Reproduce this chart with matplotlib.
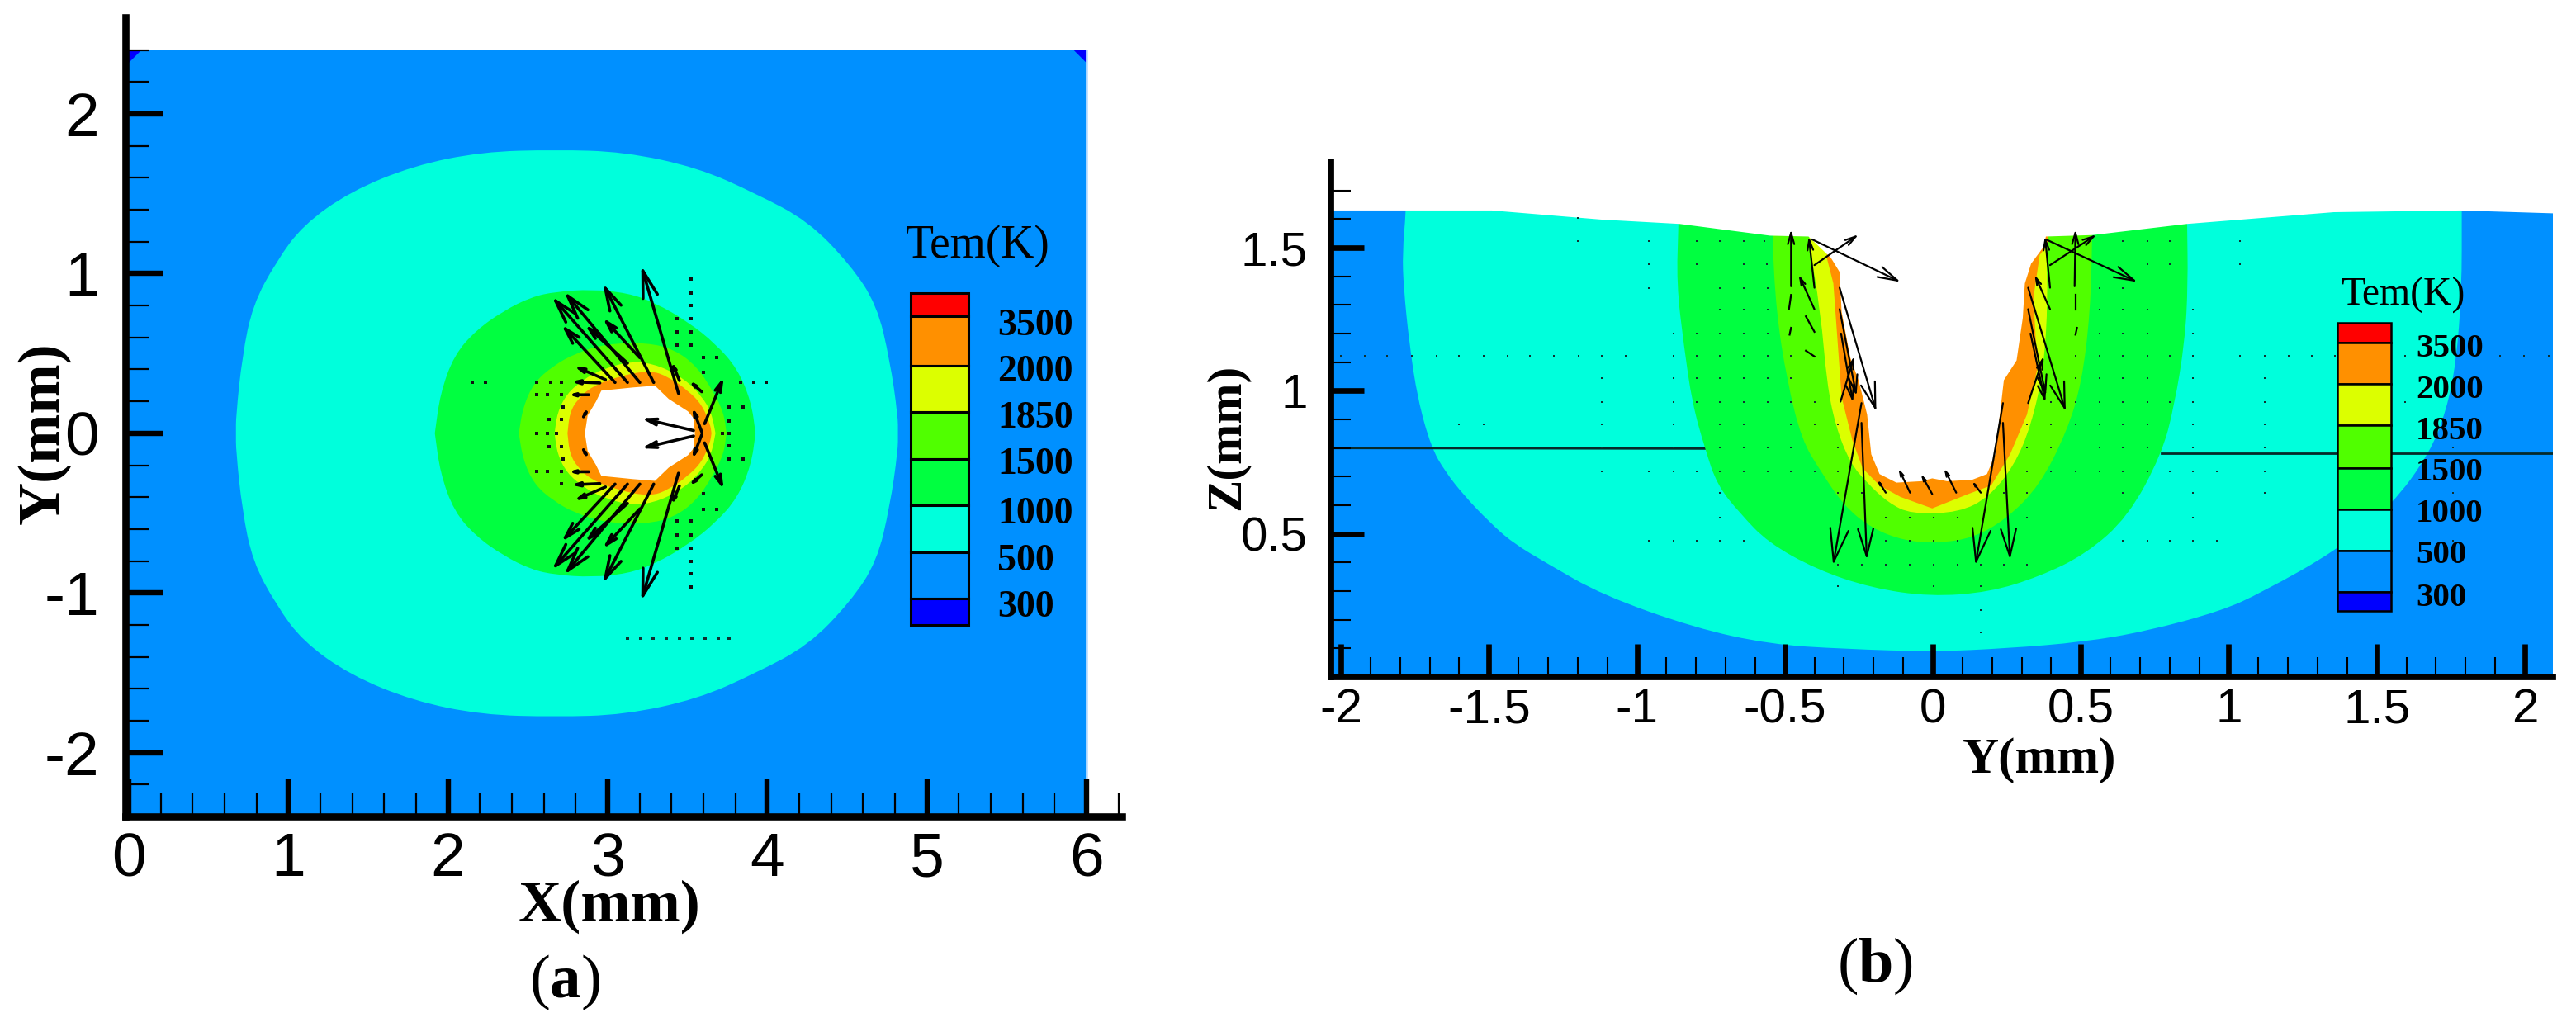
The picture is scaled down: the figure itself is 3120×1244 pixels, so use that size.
import matplotlib
matplotlib.use('Agg')
import matplotlib.pyplot as plt
from matplotlib.patches import Rectangle, PathPatch
from matplotlib.path import Path

plt.rcParams['mathtext.fontset'] = 'custom'
plt.rcParams['mathtext.rm'] = 'Liberation Serif'
plt.rcParams['mathtext.bf'] = 'Liberation Serif:bold'

BLUE = '#0090FF'
CYAN = '#00FFDC'
GREEN = '#00FF40'
LIME = '#50FF00'
YELLOW = '#DCFF00'
ORANGE = '#FF9000'

legend_levels = ['3500', '2000', '1850', '1500', '1000', '500', '300']
legend_colors = ['#FF0000', ORANGE, YELLOW, LIME, GREEN, CYAN, BLUE, '#0000FF']

# panel a, contours (upper half, the field is mirrored about y=0)
a_cyan = [(0.672, 0), (0.672, 0.107), (0.711, 0.481), (0.777, 0.804), (0.926, 1.078), (1.091, 1.303),
          (1.388, 1.514), (1.784, 1.676), (2.213, 1.763), (2.674, 1.776), (3.103, 1.763), (3.565, 1.664),
          (3.928, 1.502), (4.258, 1.328), (4.522, 1.054), (4.687, 0.804), (4.769, 0.456), (4.819, 0.107), (4.819, 0)]
a_green = [(1.918, 0), (1.952, 0.25), (2.039, 0.49), (2.177, 0.646), (2.349, 0.767), (2.521, 0.853), (2.677, 0.887),
           (2.9, 0.901), (3.125, 0.879), (3.297, 0.818), (3.504, 0.698), (3.677, 0.56), (3.814, 0.404), (3.9, 0.197), (3.927, 0)]
a_lime = [(2.444, 0), (2.47, 0.163), (2.539, 0.318), (2.659, 0.422), (2.797, 0.5), (2.987, 0.56), (3.246, 0.568),
          (3.418, 0.525), (3.556, 0.422), (3.659, 0.267), (3.728, 0.129), (3.745, 0)]
a_yellow = [(2.668, 0), (2.685, 0.129), (2.746, 0.25), (2.849, 0.336), (2.952, 0.396), (3.159, 0.456), (3.332, 0.422),
            (3.487, 0.336), (3.59, 0.232), (3.651, 0.129), (3.676, 0)]
a_orange = [(2.749, 0), (2.763, 0.129), (2.814, 0.215), (2.901, 0.292), (3.056, 0.353), (3.263, 0.396), (3.383, 0.353),
            (3.504, 0.267), (3.59, 0.18), (3.642, 0.06), (3.651, 0)]
a_hole = [(2.858, 0), (2.875, 0.111), (2.927, 0.198), (2.961, 0.267), (3.16, 0.287), (3.297, 0.298), (3.383, 0.215),
          (3.504, 0.137), (3.539, 0.094), (3.547, 0)]

# panel a, velocity: tail x, tail y, tip x, tip y (upper half)
a_arrows = [(3.444, 0.25, 3.211, 1.051), (3.289, 0.318, 2.97, 0.939), (3.202, 0.318, 2.728, 0.887),
            (3.125, 0.318, 2.651, 0.856), (3.047, 0.318, 2.711, 0.68), (3.202, 0.473, 2.97, 0.723),
            (3.125, 0.439, 2.858, 0.68), (2.987, 0.336, 2.789, 0.422), (2.952, 0.315, 2.771, 0.323),
            (2.883, 0.241, 2.754, 0.241), (3.608, 0.06, 3.728, 0.353), (3.539, 0.017, 3.211, 0.094),
            (3.59, 0.009, 3.53, 0.163), (2.849, 0.103, 2.883, 0.163), (3.59, 0.26, 3.51, 0.33), (3.45, 0.33, 3.4, 0.45)]
a_dots = [(3.521, 0.965), (3.521, 0.879), (3.521, 0.801), (3.435, 0.718), (3.521, 0.718), (3.435, 0.637), (3.521, 0.637),
          (3.435, 0.551), (3.521, 0.551), (3.599, 0.477), (3.685, 0.477), (2.711, 0.318), (2.556, 0.241), (2.625, 0.241),
          (2.711, 0.241), (2.633, 0.086), (2.711, 0.086), (3.763, 0.163), (3.849, 0.163), (3.763, 0.077), (3.599, 0.38),
          (2.72, 0.163), (2.556, 0), (2.625, 0), (2.68, 0), (3.72, 0), (3.763, 0)]
a_dots_top = [(2.151, 0.318), (2.237, 0.318), (2.556, 0.318), (2.642, 0.318), (3.832, 0.318), (3.918, 0.318), (3.996, 0.318)]
a_row_x = [3.125, 3.206, 3.287, 3.368, 3.449, 3.53, 3.611, 3.692, 3.763]
a_row_y = -1.285

# panel b, contours
b_surface_left = [(-2.035, 1.85), (-2.035, 1.63), (-1.49, 1.63), (-1.118, 1.598), (-0.856, 1.583), (-0.55, 1.542), (-0.42, 1.539)]
b_cavity = [(-0.344, 1.464), (-0.315, 1.415), (-0.308, 1.275), (-0.279, 1.116), (-0.251, 1.037), (-0.222, 0.917), (-0.208, 0.778),
            (-0.18, 0.709), (-0.123, 0.679), (-0.038, 0.684), (-0.002, 0.694), (0.048, 0.684), (0.133, 0.689), (0.183, 0.709),
            (0.211, 0.778), (0.24, 1.037), (0.283, 1.106), (0.304, 1.255), (0.311, 1.375), (0.332, 1.444), (0.375, 1.504)]
b_surface_right = [(0.382, 1.539), (0.539, 1.544), (0.859, 1.583), (1.355, 1.624), (1.782, 1.63), (2.095, 1.62), (2.095, 1.85)]
b_cyan = [(-1.78, 1.7), (-1.78, 1.63), (-1.792, 1.482), (-1.788, 1.361), (-1.769, 1.167), (-1.741, 0.973), (-1.695, 0.803), (-1.648, 0.718),
          (-1.583, 0.633), (-1.499, 0.542), (-1.42, 0.469), (-1.304, 0.397), (-1.118, 0.287), (-0.806, 0.172), (-0.55, 0.114),
          (-0.3, 0.098), (0, 0.088), (0.25, 0.1), (0.508, 0.122), (0.722, 0.16), (0.973, 0.23), (1.113, 0.296), (1.364, 0.442),
          (1.55, 0.599), (1.68, 0.784), (1.736, 0.935), (1.768, 1.098), (1.787, 1.348), (1.787, 1.63), (1.787, 1.7)]
b_green = [(-0.859, 1.7), (-0.859, 1.583), (-0.866, 1.375), (-0.841, 1.156), (-0.813, 0.957), (-0.77, 0.798), (-0.728, 0.669), (-0.65, 0.57),
           (-0.557, 0.47), (-0.394, 0.376), (-0.208, 0.311), (-0.009, 0.281), (0.19, 0.296), (0.361, 0.351), (0.518, 0.43),
           (0.66, 0.56), (0.773, 0.778), (0.816, 0.947), (0.852, 1.176), (0.862, 1.375), (0.859, 1.583), (0.859, 1.7)]
b_lime = [(-0.543, 1.7), (-0.543, 1.542), (-0.529, 1.275), (-0.493, 1.037), (-0.443, 0.828), (-0.379, 0.719), (-0.301, 0.599), (-0.208, 0.52),
          (-0.094, 0.475), (0.019, 0.468), (0.133, 0.485), (0.247, 0.55), (0.361, 0.669), (0.453, 0.858), (0.503, 1.027),
          (0.532, 1.275), (0.539, 1.544), (0.539, 1.7)]
b_yellow = [(-0.422, 1.7), (-0.422, 1.539), (-0.379, 1.275), (-0.358, 1.027), (-0.329, 0.878), (-0.28, 0.749), (-0.223, 0.679), (-0.151, 0.609),
            (-0.073, 0.569), (0.09, 0.575), (0.19, 0.629), (0.275, 0.739), (0.332, 0.878), (0.375, 1.077), (0.389, 1.325),
            (0.382, 1.494), (0.4, 1.7)]
b_orange = [(-0.358, 1.464), (-0.336, 1.375), (-0.322, 1.176), (-0.308, 0.977), (-0.272, 0.828), (-0.237, 0.729), (-0.18, 0.669), (-0.109, 0.629),
            (-0.002, 0.589), (0.119, 0.639), (0.197, 0.669), (0.261, 0.778), (0.318, 0.917), (0.353, 1.077), (0.34, 1.325),
            (0.361, 1.474), (0.389, 1.514), (0.389, 1.7), (-0.358, 1.7)]
b_line_left = ([-2.035, -0.77], [0.8, 0.798])
b_line_right = ([0.773, 2.095], [0.783, 0.783])

b_arrows = [(-0.479, 1.365, -0.479, 1.564), (-0.4, 1.36, -0.419, 1.539), (-0.4, 1.439, -0.251, 1.546), (-0.408, 1.529, -0.109, 1.38),
            (-0.4, 1.285, -0.453, 1.405), (-0.315, 1.36, -0.191, 0.928), (-0.315, 1.285, -0.258, 0.982), (-0.312, 0.962, -0.265, 1.121),
            (-0.241, 0.957, -0.337, 0.391), (-0.241, 0.888, -0.223, 0.41), (-0.31, 1.2, -0.27, 0.96),
            (0.396, 1.439, 0.553, 1.546), (0.382, 1.529, 0.691, 1.38), (0.479, 1.365, 0.482, 1.564), (0.396, 1.36, 0.379, 1.539),
            (0.396, 1.285, 0.344, 1.405), (0.322, 1.36, 0.449, 0.928), (0.322, 1.285, 0.382, 0.982), (0.322, 0.957, 0.375, 1.121),
            (0.237, 0.957, 0.144, 0.391), (0.237, 0.888, 0.261, 0.41), (0.33, 1.2, 0.38, 0.96),
            (-0.077, 0.644, -0.116, 0.729), (-0.002, 0.639, -0.04, 0.709), (0.079, 0.644, 0.038, 0.729), (0.162, 0.644, 0.133, 0.684),
            (-0.159, 0.644, -0.187, 0.689)]
b_dashes = [(-0.479, 1.335, -0.486, 1.285), (-0.429, 1.26, -0.4, 1.206), (-0.479, 1.22, -0.484, 1.196), (0.482, 1.335, 0.482, 1.285),
            (0.487, 1.22, 0.482, 1.196), (-0.429, 1.14, -0.4, 1.12)]

# panel b, small vectors: z level and the x positions on it
b_dot_rows = {
    1.603: [-1.2],
    1.524: [-1.2, -0.96, -0.799, -0.721, -0.638, -0.57, 0.643, 0.724, 0.802, 1.038],
    1.442: [-0.96, -0.799, -0.638, -0.56, 0.724, 0.802, 1.038],
    1.36: [-0.96, -0.721, -0.638, -0.557, 0.563, 0.643],
    1.285: [-0.721, -0.638, -0.557, 0.563, 0.643, 0.724, 0.88],
    1.201: [-0.877, -0.799, -0.721, -0.638, -0.557, 0.563, 0.643, 0.724, 0.88],
    1.122: [-2.0, -1.918, -1.844, -1.76, -1.676, -1.602, -1.518, -1.436, -1.36, -1.281, -1.197, -1.118, -1.038, -0.877, -0.799,
            -0.721, -0.638, -0.557, -0.479, 0.482, 0.563, 0.643, 0.724, 0.802, 0.88, 1.038, 1.122, 1.201, 1.28, 1.359, 1.596, 1.917, 1.996, 2.08],
    1.044: [-1.118, -0.877, -0.799, -0.721, -0.638, -0.557, -0.479, 0.482, 0.563, 0.643, 0.724, 0.88, 1.122],
    0.96: [-1.118, -0.877, -0.799, -0.721, -0.638, -0.557, -0.479, -0.4, 0.4, 0.482, 0.563, 0.643, 0.724, 0.802, 0.88, 1.122, 1.596],
    0.883: [-1.602, -1.518, -1.118, -0.877, -0.721, -0.638, -0.479, -0.4, -0.322, 0.318, 0.4, 0.482, 0.563, 0.643, 0.724, 0.88, 1.122],
    0.803: [-1.118, -0.877, -0.721, -0.638, -0.557, -0.479, -0.322, 0.318, 0.4, 0.563, 0.643, 0.724, 0.88, 1.122, 1.758],
    0.719: [-1.118, -0.96, -0.877, -0.799, -0.721, -0.638, -0.557, -0.479, -0.4, -0.322, 0.318, 0.4, 0.482, 0.563, 0.643, 0.724, 0.802,
            0.88, 0.959, 1.122],
    0.643: [-0.721, -0.322, -0.241, 0.24, 0.318, 0.643, 0.88, 1.122, 1.758],
    0.558: [-0.721, -0.159, -0.077, 0.002, 0.083, 0.318, 0.88],
    0.475: [-0.96, -0.877, -0.799, -0.721, -0.638, -0.159, -0.077, 0.002, 0.083, 0.643, 0.724, 0.802, 0.88, 0.959, 1.758],
    0.393: [-0.322, -0.241, -0.159, -0.077, 0.002, 0.083, 0.162, 0.24, 0.318],
    0.316: [-0.322, 0.002, 0.162],
    0.234: [0.162],
    0.157: [0.162],
}


def px_box(left, right, top, bottom):
    return [left / 3120, 1 - bottom / 1244, (right - left) / 3120, (bottom - top) / 1244]


def fill_poly(ax, pts, color, z):
    ax.fill([p[0] for p in pts], [p[1] for p in pts], color=color, lw=0, zorder=z)


def fill_smooth(ax, pts, color, z):
    # closed quadratic curve through the midpoints of the read outline
    n = len(pts)
    mids = [((pts[i][0] + pts[(i + 1) % n][0]) / 2, (pts[i][1] + pts[(i + 1) % n][1]) / 2) for i in range(n)]
    verts = [mids[-1]]
    codes = [Path.MOVETO]
    for i in range(n):
        verts += [pts[i], mids[i]]
        codes += [Path.CURVE3, Path.CURVE3]
    ax.add_patch(PathPatch(Path(verts, codes), fc=color, ec='none', lw=0, zorder=z))


def mirrored(pts):
    return pts + [(x, -y) for x, y in reversed(pts)]


def draw_arrow(ax, seg, lw, frac=0.2):
    x0, y0, x1, y1 = seg
    p0 = ax.transData.transform((x0, y0))
    p1 = ax.transData.transform((x1, y1))
    length = ((p1[0] - p0[0]) ** 2 + (p1[1] - p0[1]) ** 2) ** 0.5 * 0.72
    h = length * frac
    ax.annotate('', xy=(x1, y1), xytext=(x0, y0), zorder=4,
                arrowprops=dict(arrowstyle=f'->,head_length={h:.2f},head_width={h * 0.28:.2f}',
                                mutation_scale=1, lw=lw, color='black', shrinkA=0, shrinkB=0))


def draw_legend(ov, left, right, edges, label_x, label_y, title_x, title_y, title_size, label_size, lw):
    for i, c in enumerate(legend_colors):
        ov.add_patch(Rectangle((left, edges[i]), right - left, edges[i + 1] - edges[i], fc=c, ec='black', lw=lw))
    for lab, y in zip(legend_levels, label_y):
        ov.text(label_x, y, lab, family='Liberation Serif', weight='bold', size=label_size, ha='left', va='center')
    ov.text(title_x, title_y, 'Tem(K)', family='Liberation Serif', size=title_size, ha='left', va='center')


def style_axes(ax, bottom_major, bottom_minor, left_major, left_minor, size, lens, widths, pads):
    for s in ['top', 'right']:
        ax.spines[s].set_visible(False)
    ax.spines['left'].set_linewidth(widths[0])
    ax.spines['bottom'].set_linewidth(widths[0])
    ax.set_xticks(bottom_major[0], bottom_major[1], family='Liberation Sans', size=size)
    ax.set_yticks(left_major[0], left_major[1], family='Liberation Sans', size=size)
    ax.set_xticks(bottom_minor, minor=True)
    ax.set_yticks(left_minor, minor=True)
    ax.tick_params(axis='x', which='major', direction='in', length=lens[0], width=widths[1], pad=pads[0])
    ax.tick_params(axis='y', which='major', direction='in', length=lens[0], width=widths[1], pad=pads[1])
    ax.tick_params(which='minor', direction='in', length=lens[1], width=widths[2])
    ax.set_axisbelow(False)


fig = plt.figure(figsize=(31.2, 12.44), dpi=100, facecolor='white')

# ---------- panel a
ax1 = fig.add_axes(px_box(152, 1359, 21, 989))
ax1.set_xlim(-0.02, 6.223)
ax1.set_ylim(-2.398, 2.605)
ax1.add_patch(Rectangle((0, -2.4), 6, 4.8, fc=BLUE, ec='none', zorder=1))
ax1.fill([0, 0.08, 0], [2.4, 2.4, 2.32], color='#0000FF', lw=0, zorder=1.02)
ax1.fill([6, 5.92, 6], [2.4, 2.4, 2.32], color='#0000FF', lw=0, zorder=1.02)
ax1.plot([6, 6], [-2.4, 2.4], color='#BFDFFF', lw=2, zorder=1.03)
for pts, c, z in [(a_cyan, CYAN, 1.1), (a_green, GREEN, 1.2), (a_lime, LIME, 1.3), (a_yellow, YELLOW, 1.4),
                  (a_orange, ORANGE, 1.5)]:
    fill_smooth(ax1, mirrored(pts), c, z)
fill_poly(ax1, mirrored(a_hole), 'white', 1.6)
for x, y in a_dots:
    ax1.plot([x, x], [y, -y], 's', color='#101010', ms=2.4, mew=0, zorder=3)
for x, y in a_dots_top:
    ax1.plot(x, y, 's', color='#101010', ms=2.4, mew=0, zorder=3)
ax1.plot(a_row_x, [a_row_y] * len(a_row_x), 's', color='#103030', ms=2.2, mew=0, zorder=3)
for seg in a_arrows:
    draw_arrow(ax1, seg, 2.6)
    draw_arrow(ax1, (seg[0], -seg[1], seg[2], -seg[3]), 2.6)
style_axes(ax1, ([0, 1, 2, 3, 4, 5, 6], ['0', '1', '2', '3', '4', '5', '6']),
           [v / 10 for v in range(2, 64, 2) if v % 10 != 0],
           ([-2, -1, 0, 1, 2], ['-2', '-1', '0', '1', '2']),
           [-2.4, -2.2, -1.8, -1.6, -1.4, -1.2, -0.8, -0.6, -0.4, -0.2, 0.2, 0.4, 0.6, 0.8, 1.2, 1.4, 1.6, 1.8, 2.2, 2.4],
           54, (33, 20), (6.2, 4.6, 1.6), (13, 23))
ax1.set_xlabel('X(mm)', family='Liberation Serif', weight='bold', size=52, va='top')
ax1.xaxis.set_label_coords(0.4855, -0.0795)
ax1.set_ylabel('Y(mm)', family='Liberation Serif', weight='bold', size=52)
ax1.yaxis.set_label_coords(-0.0545, 0.480)

# ---------- panel b
ax2 = fig.add_axes(px_box(1611.5, 3092, 196, 820))
ax2.set_xlim(-2.035, 2.095)
ax2.set_ylim(0, 1.8)
ax2.add_patch(Rectangle((-2.035, 0), 4.13, 1.8, fc=BLUE, ec='none', zorder=1))
fill_smooth(ax2, b_cyan, CYAN, 1.1)
ax2.plot(b_line_left[0], b_line_left[1], color='#062a2a', lw=2, zorder=1.15)
ax2.plot(b_line_right[0], b_line_right[1], color='#062a2a', lw=2, zorder=1.15)
fill_smooth(ax2, b_green, GREEN, 1.2)
fill_smooth(ax2, b_lime, LIME, 1.3)
fill_smooth(ax2, b_yellow, YELLOW, 1.4)
fill_poly(ax2, b_orange, ORANGE, 1.5)
fill_poly(ax2, b_surface_left + b_cavity + b_surface_right, 'white', 1.6)
for z, xs in b_dot_rows.items():
    ax2.plot(xs, [z] * len(xs), 's', color='#103030', ms=1.9, mew=0, zorder=3)
for seg in b_arrows:
    draw_arrow(ax2, seg, 1.6)
for x0, y0, x1, y1 in b_dashes:
    ax2.plot([x0, x1], [y0, y1], color='black', lw=1.6, zorder=3)
b_major = [-2, -1.5, -1, -0.5, 0, 0.5, 1, 1.5, 2]
style_axes(ax2, (b_major, ['-2', '-1.5', '-1', '-0.5', '0', '0.5', '1', '1.5', '2']),
           [v / 10 for v in range(-20, 21) if v % 5 != 0],
           ([0.5, 1, 1.5], ['0.5', '1', '1.5']),
           [v / 10 for v in range(1, 18) if v % 5 != 0],
           42, (29, 17), (5.6, 4.8, 1.5), (9.4, 20))
ax2.set_xlabel('Y(mm)', family='Liberation Serif', weight='bold', size=44, va='top')
ax2.xaxis.set_label_coords(0.58, -0.1170)
ax2.set_ylabel('Z(mm)', family='Liberation Serif', weight='bold', size=42.5)
ax2.yaxis.set_label_coords(-0.0665, 0.4655)

# ---------- overlay in figure pixels for legends and captions
ov = fig.add_axes([0, 0, 1, 1], zorder=10)
ov.set_xlim(0, 3120)
ov.set_ylim(1244, 0)
ov.axis('off')
draw_legend(ov, 1103, 1173, [355, 383, 443, 499, 556, 612, 669, 725, 757], 1208,
            [395, 451, 507, 563, 623, 680, 736], 1097, 298, 40, 33, 2.2)
draw_legend(ov, 2831, 2896, [391, 415, 465, 515, 567, 617, 667, 717, 740], 2926,
            [423, 472, 522, 572, 622, 672, 724], 2835, 358, 34.4, 29.5, 1.8)
ov.text(684.5, 1190, r'($\mathbf{a}$)', family='Liberation Serif', size=54, ha='center', va='center')
ov.text(2271.5, 1170, r'($\mathbf{b}$)', family='Liberation Serif', size=55, ha='center', va='center')

fig.savefig('out.png', dpi=100)
